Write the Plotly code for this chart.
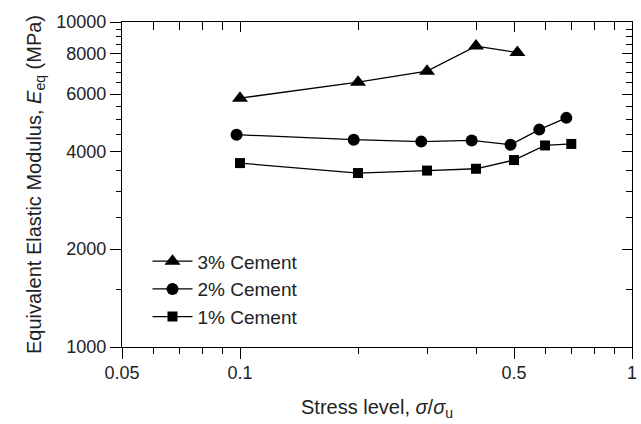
import plotly.graph_objects as go

# Stress level (sigma / sigma_u) and equivalent elastic modulus (MPa)
stress_3 = [0.10, 0.20, 0.30, 0.40, 0.51]
modulus_3 = [5830, 6530, 7060, 8430, 8050]

stress_2 = [0.098, 0.195, 0.29, 0.39, 0.49, 0.58, 0.68]
modulus_2 = [4500, 4345, 4285, 4320, 4190, 4665, 5070]

stress_1 = [0.10, 0.20, 0.30, 0.40, 0.50, 0.60, 0.70]
modulus_1 = [3680, 3430, 3490, 3535, 3760, 4170, 4215]

x_major = [0.05, 0.1, 0.5, 1]
x_major_text = ["0.05", "0.1", "0.5", "1"]
x_minor = [0.06, 0.07, 0.08, 0.09, 0.2, 0.3, 0.4, 0.6, 0.7, 0.8, 0.9]

y_major = [1000, 2000, 4000, 6000, 8000, 10000]
y_major_text = ["1000", "2000", "4000", "6000", "8000", "10000"]
y_minor = [v for v in range(1500, 10000, 500) if v not in y_major]

FONT = "Liberation Sans, Arial, sans-serif"
TEXT = "#222"
X_RANGE = [-1.30103, 0]
Y_RANGE = [3, 4]

fig = go.Figure()

series = [
    ("3% Cement", stress_3, modulus_3, "triangle-up", 14),
    ("2% Cement", stress_2, modulus_2, "circle", 12),
    ("1% Cement", stress_1, modulus_1, "square", 10),
]
for name, xs, ys, sym, size in series:
    fig.add_trace(go.Scatter(
        x=xs, y=ys, name=name, mode="lines+markers",
        line=dict(color="black", width=1.3),
        marker=dict(symbol=sym, size=size, color="black"),
    ))

# invisible trace carrying the top/right (inward tick) axes
fig.add_trace(go.Scatter(x=[0.1], y=[1000], xaxis="x2", yaxis="y2",
                         mode="markers", marker=dict(opacity=0),
                         showlegend=False, hoverinfo="skip"))

tick_font = dict(family=FONT, size=18, color=TEXT)

fig.update_layout(
    width=641, height=424,
    margin=dict(l=122, r=9, t=22, b=77),
    paper_bgcolor="white", plot_bgcolor="white",
    font=dict(family=FONT, color=TEXT),
    showlegend=True,
    legend=dict(x=0.05, y=0.322, xanchor="left", yanchor="top",
                bgcolor="rgba(0,0,0,0)", font=dict(family=FONT, size=19, color=TEXT),
                tracegroupgap=0, itemwidth=40),
    xaxis=dict(
        type="log", range=X_RANGE, showgrid=False, zeroline=False, automargin=False,
        showline=True, linecolor="black", linewidth=1.3,
        tickmode="array", tickvals=x_major, ticktext=x_major_text,
        ticks="outside", ticklen=11, tickwidth=1.3, tickcolor="black",
        tickfont=tick_font, ticklabelstandoff=-2,
        minor=dict(tickmode="array", tickvals=x_minor, ticks="outside",
                   ticklen=6, tickwidth=1.3, tickcolor="black", showgrid=False),
        title=dict(text="Stress level, <i>σ</i>/<i>σ</i><sub>u</sub>",
                   font=dict(family=FONT, size=20, color=TEXT), standoff=18),
    ),
    yaxis=dict(
        type="log", range=Y_RANGE, showgrid=False, zeroline=False, automargin=False,
        showline=True, linecolor="black", linewidth=1.3,
        tickmode="array", tickvals=y_major, ticktext=y_major_text,
        ticks="outside", ticklen=11, tickwidth=1.3, tickcolor="black",
        tickfont=tick_font,
        minor=dict(tickmode="array", tickvals=y_minor, ticks="outside",
                   ticklen=5, tickwidth=1.3, tickcolor="black", showgrid=False),
        title=dict(text="Equivalent Elastic Modulus, <i>E</i><sub>eq</sub> (MPa)",
                   font=dict(family=FONT, size=20, color=TEXT), standoff=9),
    ),
    xaxis2=dict(
        type="log", range=X_RANGE, overlaying="x", side="top", automargin=False,
        showgrid=False, zeroline=False, showline=True, linecolor="black", linewidth=1.3,
        tickmode="array", tickvals=x_major, ticks="inside", ticklen=10,
        tickwidth=1.3, tickcolor="black", showticklabels=False,
        minor=dict(tickmode="array", tickvals=x_minor, ticks="inside",
                   ticklen=8, tickwidth=1.3, tickcolor="black", showgrid=False),
    ),
    yaxis2=dict(
        type="log", range=Y_RANGE, overlaying="y", side="right", automargin=False,
        showgrid=False, zeroline=False, showline=True, linecolor="black", linewidth=1.3,
        tickmode="array", tickvals=y_major, ticks="inside", ticklen=10,
        tickwidth=1.3, tickcolor="black", showticklabels=False,
        minor=dict(tickmode="array", tickvals=y_minor, ticks="inside",
                   ticklen=6, tickwidth=1.3, tickcolor="black", showgrid=False),
    ),
)

fig.write_html("out.html")
